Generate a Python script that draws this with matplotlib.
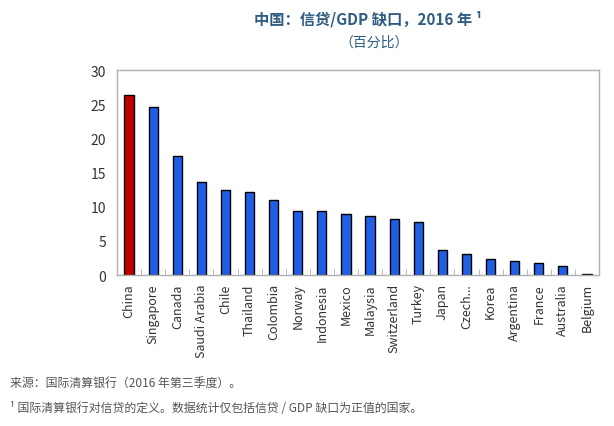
import matplotlib
matplotlib.use("Agg")
import matplotlib.pyplot as plt

plt.rcParams['font.family'] = ['Noto Sans CJK SC', 'DejaVu Sans']

countries = ["China", "Singapore", "Canada", "Saudi Arabia", "Chile", "Thailand",
             "Colombia", "Norway", "Indonesia", "Mexico", "Malaysia", "Switzerland",
             "Turkey", "Japan", "Czech...", "Korea", "Argentina", "France",
             "Australia", "Belgium"]
gap = [26.3, 24.6, 17.4, 13.6, 12.4, 12.1, 11.0, 9.4, 9.3, 9.0, 8.7, 8.2,
       7.7, 3.6, 3.1, 2.3, 2.0, 1.7, 1.3, 0.2]

RED = "#c00000"
BLUE = "#1f5fe6"
TITLE = "#2f5c82"
TEXT = "#333333"
FRAME = "#b0b0b0"

fig = plt.figure(figsize=(6.14, 4.27), dpi=100)
ax = fig.add_axes([0.1906, 0.3536, 0.7850, 0.4801])

x = list(range(len(countries)))
colors = [RED] + [BLUE] * (len(countries) - 1)
ax.bar(x, gap, width=0.38, color=colors, edgecolor="black", linewidth=1.0, zorder=2)

ax.set_xlim(-0.5, len(countries) - 0.5)
ax.set_ylim(0, 30)
ax.set_yticks([0, 5, 10, 15, 20, 25, 30])
ax.tick_params(axis="y", length=0, labelsize=10, colors=TEXT, pad=8)
ax.set_xticks(x)
ax.set_xticklabels(countries, rotation=90, fontsize=9, color=TEXT)
ax.tick_params(axis="x", length=0, pad=6)
# small category separators on the baseline
ax.set_xticks([i + 0.5 for i in x[:-1]], minor=True)
ax.tick_params(axis="x", which="minor", direction="in", length=4, color=FRAME)
for spine in ax.spines.values():
    spine.set_edgecolor(FRAME)
    spine.set_linewidth(1.0)

fig.text(0.600, 0.955, "中国：信贷/GDP 缺口，2016 年 ¹", ha="center", va="center",
         fontsize=11, fontweight="bold", color=TITLE)
fig.text(0.61, 0.900, "（百分比）", ha="center", va="center",
         fontsize=10, color=TITLE)

fig.text(0.016, 0.103, "来源：国际清算银行（2016 年第三季度）。", ha="left", va="center",
         fontsize=8.6, color="#555555")
fig.text(0.016, 0.044, "¹ 国际清算银行对信贷的定义。数据统计仅包括信贷 / GDP 缺口为正值的国家。",
         ha="left", va="center", fontsize=8.6, color="#555555")

fig.savefig("out.png", dpi=100)
